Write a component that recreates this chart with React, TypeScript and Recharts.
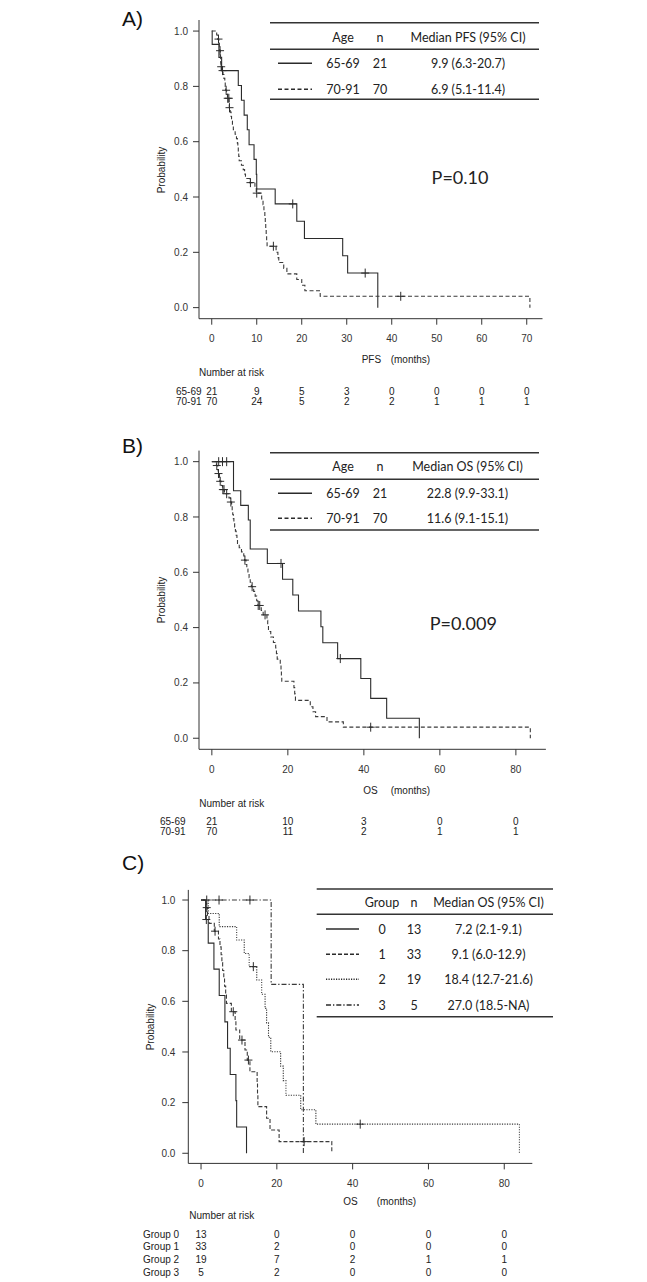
import { LineChart, Line, XAxis, YAxis } from "recharts";

const SANS = "'Liberation Sans', Arial, sans-serif";
const TAB = "Lato, 'Open Sans', sans-serif";
const INK = "#2b2b2b";

// A) PFS by age — step times (months) / survival / censor times
const aYoungT = [0, 0.1, 1.6, 2.2, 5.9, 6.6, 7.2, 7.9, 8.3, 9.4, 9.9, 10.0, 14.1, 18.9, 20.6, 29.1, 30.2, 36.9];
const aYoungS = [1, 0.952, 0.905, 0.857, 0.803, 0.75, 0.696, 0.643, 0.589, 0.536, 0.482, 0.429, 0.375, 0.3125, 0.25, 0.1875, 0.125, 0];
const aYoungC = [2.4, 18.0, 34.1];
const aOldT = [0, 1.1, 1.3, 1.55, 1.7, 1.8, 1.9, 1.95, 2.0, 2.05, 2.3, 2.5, 2.7, 2.9, 3.0, 3.1, 3.3, 3.5, 3.85, 3.9, 4.1, 4.3, 4.4, 4.6, 4.8, 5.2, 5.5, 5.7, 5.8, 5.9, 6.0, 6.1, 6.6, 7.0, 7.3, 7.5, 8.4, 9.6, 9.9, 11.1, 11.4, 11.6, 11.8, 11.9, 12.0, 12.1, 12.2, 12.3, 14.3, 14.7, 14.9, 16.0, 16.7, 18.9, 20.0, 20.7, 24.1, 70.7];
const aOldS = [1, 0.986, 0.971, 0.957, 0.943, 0.929, 0.914, 0.9, 0.886, 0.871, 0.857, 0.843, 0.829, 0.814, 0.8, 0.786, 0.771, 0.757, 0.738, 0.723, 0.707, 0.691, 0.675, 0.659, 0.643, 0.627, 0.611, 0.595, 0.579, 0.563, 0.547, 0.531, 0.515, 0.499, 0.483, 0.467, 0.452, 0.436, 0.414, 0.393, 0.372, 0.35, 0.329, 0.307, 0.286, 0.264, 0.243, 0.222, 0.2, 0.181, 0.163, 0.142, 0.122, 0.102, 0.081, 0.061, 0.041, 0];
const aOldC = [1.5, 1.85, 2.1, 3.2, 3.55, 3.8, 3.95, 8.6, 10.0, 13.7, 42.0];
const aTicks = [0, 10, 20, 30, 40, 50, 60, 70];
const aRisk = [
  [21, 9, 5, 3, 0, 0, 0, 0],
  [70, 24, 5, 2, 2, 1, 1, 1],
];

// B) OS by age
const bYoungT = [0, 5.7, 7.6, 9.6, 10.1, 14.6, 18.6, 21.3, 22.8, 28.7, 29.2, 33.1, 39.2, 41.8, 46.0, 54.6];
const bYoungS = [1, 0.895, 0.842, 0.789, 0.684, 0.632, 0.575, 0.518, 0.46, 0.403, 0.345, 0.288, 0.216, 0.144, 0.072, 0];
const bYoungC = [1.8, 2.8, 3.9, 18.2, 33.8];
const bOldT = [0, 1.2, 1.5, 1.7, 2.0, 2.1, 2.5, 2.8, 3.3, 4.5, 4.9, 5.2, 5.35, 5.5, 5.65, 5.8, 6.0, 6.2, 6.4, 6.6, 6.75, 7.2, 7.8, 8.4, 8.6, 9.0, 9.2, 9.5, 9.8, 10.1, 10.4, 11.0, 11.4, 11.8, 12.1, 13.0, 13.5, 14.5, 14.7, 14.9, 15.5, 16.2, 16.8, 17.0, 17.2, 18.0, 18.2, 18.3, 18.4, 21.6, 21.8, 22.0, 25.9, 26.6, 27.3, 30.3, 34.6, 83.8];
const bOldS = [1, 0.986, 0.971, 0.957, 0.943, 0.929, 0.914, 0.899, 0.884, 0.869, 0.854, 0.839, 0.824, 0.809, 0.794, 0.779, 0.764, 0.749, 0.734, 0.719, 0.704, 0.689, 0.674, 0.659, 0.644, 0.628, 0.612, 0.596, 0.58, 0.564, 0.548, 0.531, 0.514, 0.497, 0.48, 0.462, 0.446, 0.426, 0.406, 0.386, 0.366, 0.346, 0.326, 0.306, 0.286, 0.266, 0.246, 0.226, 0.206, 0.183, 0.16, 0.137, 0.114, 0.096, 0.078, 0.059, 0.04, 0];
const bOldC = [1.3, 1.75, 2.2, 2.9, 3.2, 3.9, 5.0, 8.7, 10.6, 12.2, 12.6, 14.0, 41.8];
const bTicks = [0, 20, 40, 60, 80];
const bRisk = [
  [21, 10, 3, 0, 0],
  [70, 11, 2, 1, 1],
];

// C) OS by group
const g0T = [0, 1.2, 1.9, 3.4, 4.8, 6.3, 7.0, 7.7, 9.2, 9.4, 12.0];
const g0S = [1, 0.923, 0.83, 0.727, 0.623, 0.519, 0.415, 0.311, 0.208, 0.104, 0];
const g0C = [1.4];
const g1T = [0, 1.3, 1.7, 2.1, 3.5, 4.6, 5.0, 5.3, 5.5, 5.7, 6.0, 6.2, 6.5, 6.7, 8.0, 9.0, 9.2, 10.2, 11.6, 12.2, 12.9, 14.8, 14.9, 15.0, 17.3, 18.2, 20.6, 34.5];
const g1S = [1, 0.97, 0.939, 0.908, 0.877, 0.846, 0.815, 0.784, 0.753, 0.722, 0.691, 0.66, 0.625, 0.592, 0.559, 0.523, 0.487, 0.447, 0.408, 0.368, 0.322, 0.276, 0.23, 0.184, 0.138, 0.092, 0.046, 0];
const g1C = [1.5, 3.7, 8.5, 10.8, 12.5, 27.2];
const g2T = [0, 1.9, 4.8, 9.4, 11.4, 12.7, 14.7, 16.0, 16.9, 17.3, 17.8, 18.4, 21.0, 21.7, 22.4, 26.3, 30.3, 84.0];
const g2S = [1, 0.947, 0.895, 0.842, 0.789, 0.737, 0.684, 0.628, 0.572, 0.515, 0.458, 0.401, 0.344, 0.287, 0.229, 0.172, 0.115, 0];
const g2C = [1.5, 13.8, 42.0];
const g3T = [0, 18.5, 27.0];
const g3S = [1, 0.667, 0];
const g3C = [4.75, 12.9];
const cTicks = [0, 20, 40, 60, 80];
const cRisk = [
  [13, 0, 0, 0, 0],
  [33, 2, 0, 0, 0],
  [19, 7, 2, 1, 1],
  [5, 2, 0, 0, 0],
];

const yTicks = [0, 0.2, 0.4, 0.6, 0.8, 1];

// legend tables
const aHead = ["Age", "n", "Median PFS (95% CI)"];
const aRows = [
  ["65-69", "21", "9.9 (6.3-20.7)"],
  ["70-91", "70", "6.9 (5.1-11.4)"],
];
const bHead = ["Age", "n", "Median OS (95% CI)"];
const bRows = [
  ["65-69", "21", "22.8 (9.9-33.1)"],
  ["70-91", "70", "11.6 (9.1-15.1)"],
];
const cHead = ["Group", "n", "Median OS (95% CI)"];
const cRows = [
  ["0", "13", "7.2 (2.1-9.1)"],
  ["1", "33", "9.1 (6.0-12.9)"],
  ["2", "19", "18.4 (12.7-21.6)"],
  ["3", "5", "27.0 (18.5-NA)"],
];
const ageLabels = ["65-69", "70-91"];
const groupLabels = ["Group 0", "Group 1", "Group 2", "Group 3"];

const DASH = "4 2.5";
const DOT = "1.2 1.3";
const DASHDOT = "5 2 1.3 2";

const steps = (t: number[], s: number[]) => t.map((v, i) => ({ t: v, s: s[i] }));
const marks = (c: number[], t: number[], s: number[]) =>
  c.map((v) => {
    let k = 0;
    t.forEach((tt, i) => {
      if (tt <= v) k = i;
    });
    return { t: v, s: s[k] };
  });

const cross = (p: any) => {
  if (p.cx == null || p.cy == null) return <g key={p.key} />;
  return (
    <path
      key={p.key}
      d={`M${p.cx - 4},${p.cy}H${p.cx + 4}M${p.cx},${p.cy - 4.5}V${p.cy + 4.5}`}
      stroke={INK}
      strokeWidth={1}
      fill="none"
    />
  );
};

type Curve = { t: number[]; s: number[]; c: number[]; dash?: string };

function KMChart(props: {
  top: number;
  height: number;
  margin: { top: number; right: number; bottom: number; left: number };
  xDomain: [number, number];
  xTicks: number[];
  curves: Curve[];
  risk: number[][];
  labelDy: number;
  riskDy: number[];
  yMargin: number;
}) {
  const { top, height, margin, xDomain, xTicks, curves, risk, labelDy, riskDy, yMargin } = props;
  const tick = (p: any) => {
    const i = xTicks.indexOf(p.payload.value);
    return (
      <g key={p.key ?? p.index}>
        <text x={p.x} y={p.y + labelDy} textAnchor="middle" dominantBaseline="central" fontSize={10} fill="#333" fontFamily={SANS}>
          {p.payload.value}
        </text>
        {risk.map((r, k) => (
          <text key={k} x={p.x} y={p.y + riskDy[k]} textAnchor="middle" dominantBaseline="central" fontSize={10} fill="#222" fontFamily={SANS}>
            {r[i]}
          </text>
        ))}
      </g>
    );
  };
  return (
    <div style={{ position: "absolute", left: 0, top }}>
      <LineChart width={560} height={height} margin={margin}>
        <XAxis
          type="number"
          dataKey="t"
          domain={xDomain}
          ticks={xTicks}
          interval={0}
          allowDataOverflow
          tickSize={6}
          tickMargin={0}
          height={30}
          stroke="#333"
          tick={tick}
        />
        <YAxis
          type="number"
          dataKey="s"
          domain={[-0.04, 1.04]}
          ticks={yTicks}
          interval={0}
          allowDataOverflow
          tickSize={6}
          tickMargin={yMargin}
          width={40}
          stroke="#333"
          tickFormatter={(v: number) => v.toFixed(1)}
          tick={{ fontSize: 10, fill: "#333", fontFamily: SANS }}
        />
        {curves.map((c, i) => (
          <Line
            key={"l" + i}
            data={steps(c.t, c.s)}
            dataKey="s"
            type="stepAfter"
            stroke={c.dash ? "#3a3a3a" : INK}
            strokeWidth={1.1}
            strokeDasharray={c.dash}
            dot={false}
            activeDot={false}
            isAnimationActive={false}
          />
        ))}
        {curves.map((c, i) => (
          <Line
            key={"c" + i}
            data={marks(c.c, c.t, c.s)}
            dataKey="s"
            stroke="none"
            dot={cross}
            activeDot={false}
            isAnimationActive={false}
          />
        ))}
      </LineChart>
    </div>
  );
}

function Table(props: {
  x0: number;
  x1: number;
  lines: number[];
  headY: number;
  rowY: number[];
  sample: [number, number];
  cols: number[];
  head: string[];
  rows: string[][];
  dashes: (string | undefined)[];
}) {
  const { x0, x1, lines, headY, rowY, sample, cols, head, rows, dashes } = props;
  const txt = { fontSize: 12.5, fontFamily: TAB, fill: "#222", textAnchor: "middle" as const, dominantBaseline: "central" as const };
  return (
    <g>
      {lines.map((y, i) => (
        <line key={i} x1={x0} x2={x1} y1={y} y2={y} stroke="#333" strokeWidth={1.4} />
      ))}
      {head.map((h, i) => (
        <text key={i} x={cols[i]} y={headY} {...txt}>
          {h}
        </text>
      ))}
      {rows.map((r, k) => (
        <g key={k}>
          <line x1={sample[0]} x2={sample[1]} y1={rowY[k]} y2={rowY[k]} stroke={INK} strokeWidth={1.4} strokeDasharray={dashes[k]} />
          {r.map((v, i) => (
            <text key={i} x={cols[i]} y={rowY[k]} {...txt}>
              {v}
            </text>
          ))}
        </g>
      ))}
    </g>
  );
}

function Overlay() {
  const small = { fontSize: 10, fontFamily: SANS, fill: "#222", dominantBaseline: "central" as const };
  const big = { fontSize: 18, fontFamily: TAB, fill: "#222", textAnchor: "middle" as const, dominantBaseline: "central" as const };
  const panel = { fontSize: 21, fontFamily: SANS, fill: "#111", dominantBaseline: "central" as const };
  return (
    <svg width={647} height={1282} style={{ position: "absolute", left: 0, top: 0, pointerEvents: "none" }}>
      {/* A */}
      <text x={122} y={18} {...panel}>A)</text>
      <text x={161.7} y={170} transform="rotate(-90 161.7 170)" textAnchor="middle" {...small}>Probability</text>
      <text x={361.7} y={359.3} {...small}>PFS</text>
      <text x={390.7} y={359.3} {...small}>(months)</text>
      <text x={199} y={372.7} {...small}>Number at risk</text>
      {ageLabels.map((l, i) => (
        <text key={"a" + l} x={176} y={391.7 + i * 10} {...small}>{l}</text>
      ))}
      <text x={460} y={176.7} {...big}>P=0.10</text>
      <Table x0={270} x1={539} lines={[22.7, 49.3, 99.3]} headY={37.3} rowY={[63.3, 89.3]} sample={[278, 312]} cols={[343, 380, 468]} head={aHead} rows={aRows} dashes={[undefined, DASH]} />

      {/* B */}
      <text x={122} y={445} {...panel}>B)</text>
      <text x={161.7} y={600} transform="rotate(-90 161.7 600)" textAnchor="middle" {...small}>Probability</text>
      <text x={363.3} y={790} {...small}>OS</text>
      <text x={390.7} y={790} {...small}>(months)</text>
      <text x={199.3} y={803.3} {...small}>Number at risk</text>
      {ageLabels.map((l, i) => (
        <text key={"b" + l} x={160} y={821.7 + i * 10} {...small}>{l}</text>
      ))}
      <text x={463.3} y={623.3} {...big}>P=0.009</text>
      <Table x0={270} x1={539} lines={[452.7, 479.3, 530]} headY={466.7} rowY={[493.3, 518.3]} sample={[278, 312]} cols={[343, 380, 467.5]} head={bHead} rows={bRows} dashes={[undefined, DASH]} />

      {/* C */}
      <text x={122} y={862} {...panel}>C)</text>
      <text x={150} y={1027} transform="rotate(-90 150 1027)" textAnchor="middle" {...small}>Probability</text>
      <text x={343.3} y={1201.7} {...small}>OS</text>
      <text x={376.7} y={1201.7} {...small}>(months)</text>
      <text x={189.3} y={1215} {...small}>Number at risk</text>
      {groupLabels.map((l, i) => (
        <text key={l} x={143} y={[1234.3, 1246.7, 1259, 1272.3][i]} {...small}>{l}</text>
      ))}
      <Table x0={316.7} x1={553} lines={[889, 914.3, 1016.7]} headY={902.7} rowY={[929, 954.3, 979.3, 1005]} sample={[326, 359]} cols={[382, 414, 488.5]} head={cHead} rows={cRows} dashes={[undefined, "4 2", DOT, DASHDOT]} />
    </svg>
  );
}

export default function App() {
  return (
    <div style={{ position: "absolute", left: 0, top: 0, width: 647, height: 1282, background: "#fff" }}>
      <KMChart
        top={0}
        height={420}
        margin={{ top: 20, right: 17.5, bottom: 71.3, left: 159 }}
        xDomain={[-2.83, 73.5]}
        xTicks={aTicks}
        curves={[
          { t: aYoungT, s: aYoungS, c: aYoungC },
          { t: aOldT, s: aOldS, c: aOldC, dash: DASH },
        ]}
        risk={aRisk}
        labelDy={13.6}
        riskDy={[67, 77]}
        yMargin={5}
      />
      <KMChart
        top={440}
        height={400}
        margin={{ top: 10.6, right: 14.1, bottom: 60.7, left: 159 }}
        xDomain={[-3.38, 87.9]}
        xTicks={bTicks}
        curves={[
          { t: bYoungT, s: bYoungS, c: bYoungC },
          { t: bOldT, s: bOldS, c: bOldC, dash: DASH },
        ]}
        risk={bRisk}
        labelDy={14}
        riskDy={[66.4, 76.4]}
        yMargin={5}
      />
      <KMChart
        top={870}
        height={412}
        margin={{ top: 19.9, right: 27.7, bottom: 88.6, left: 148.3 }}
        xDomain={[-3.36, 87.4]}
        xTicks={cTicks}
        curves={[
          { t: g0T, s: g0S, c: g0C },
          { t: g1T, s: g1S, c: g1C, dash: "4 2" },
          { t: g2T, s: g2S, c: g2C, dash: DOT },
          { t: g3T, s: g3S, c: g3C, dash: DASHDOT },
        ]}
        risk={cRisk}
        labelDy={13.9}
        riskDy={[64.9, 77.3, 89.6, 102.9]}
        yMargin={7}
      />
      <Overlay />
    </div>
  );
}
